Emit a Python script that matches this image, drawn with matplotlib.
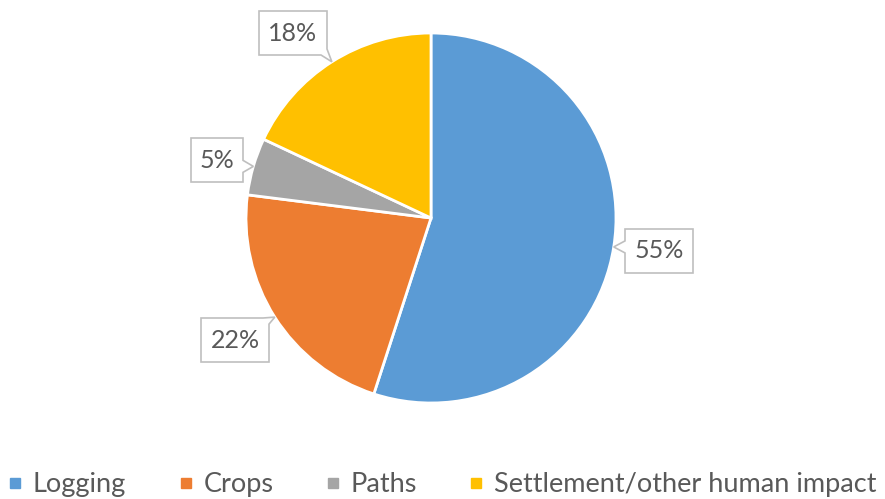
import numpy as np
import matplotlib
matplotlib.use("Agg")
import matplotlib.pyplot as plt
from matplotlib.patches import Polygon
from matplotlib.lines import Line2D

# data
categories = ["Logging", "Crops", "Paths", "Settlement/other human impact"]
shares = [55, 22, 5, 18]
labels = ["55%", "22%", "5%", "18%"]
colors = ["#5B9BD5", "#ED7D31", "#A5A5A5", "#FFC000"]

W, H = 885, 499
plt.rcParams['font.family'] = ['Lato', 'DejaVu Sans']

fig = plt.figure(figsize=(W / 100, H / 100), dpi=100)
ax = fig.add_axes([0, 0, 1, 1])

cx, cy, r = 431, H - 218, 185
wedges, _ = ax.pie(shares, colors=colors, startangle=90, counterclock=False,
                   center=(cx, cy), radius=r, frame=True,
                   wedgeprops=dict(edgecolor="white", linewidth=2))
ax.set_xlim(0, W)
ax.set_ylim(0, H)
ax.set_aspect("auto")
ax.axis("off")

# label box centres (pixel coords, y down) and half sizes
box_centres = [(659, 251), (235, 340), (217, 160), (293, 33)]
box_half = [(34, 22), (34, 22), (26, 22), (34, 22)]


def callout(tip, centre, half):
    # rectangle outline with a small pointer notch towards tip
    x0, x1 = centre[0] - half[0], centre[0] + half[0]
    y0, y1 = centre[1] - half[1], centre[1] + half[1]
    corners = [(x0, y0), (x1, y0), (x1, y1), (x0, y1)]
    lens = [x1 - x0, y1 - y0, x1 - x0, y1 - y0]
    per = sum(lens)
    cum = np.cumsum([0] + lens[:3])

    def point(t):
        t = t % per
        for i in range(4):
            if t <= lens[i]:
                a = np.array(corners[i]); b = np.array(corners[(i + 1) % 4])
                return a + (b - a) * t / lens[i]
            t -= lens[i]
        return np.array(corners[0])

    ts = np.linspace(0, per, 2000, endpoint=False)
    pts = np.array([point(t) for t in ts])
    tc = ts[np.argmin(((pts - np.array(tip)) ** 2).sum(axis=1))]
    # walk the perimeter starting just after the notch
    start = tc + 6
    seq = []
    for t, c in sorted(((t - start) % per, c) for t, c in zip(cum, corners)):
        if t < per - 12:
            seq.append(c)
    seq = [tuple(point(start))] + seq + [tuple(point(tc - 6)), tuple(tip)]
    return [(x, H - y) for x, y in seq]


theta = 90.0
for w, lab, cen, hs in zip(shares, labels, box_centres, box_half):
    mid = np.deg2rad(theta - w * 3.6 / 2)
    theta -= w * 3.6
    tip = (cx + r * np.cos(mid), 218 - r * np.sin(mid))
    poly = Polygon(callout(tip, cen, hs), closed=True, facecolor="white",
                   edgecolor="#BFBFBF", linewidth=1.2, zorder=5)
    ax.add_patch(poly)
    ax.text(cen[0], H - cen[1], lab, ha="center", va="center",
            fontsize=18, color="#595959", zorder=6)

handles = [Line2D([], [], marker="s", linestyle="none", markersize=7,
                  markerfacecolor=c, markeredgecolor=c) for c in colors]
fig.legend(handles, categories, loc="lower center", ncol=4, frameon=False,
           bbox_to_anchor=(0.5, -0.045), fontsize=19.5, labelcolor="#595959",
           handlelength=0.5, handletextpad=0.4, columnspacing=1.95)

fig.savefig("out.png", dpi=100)
